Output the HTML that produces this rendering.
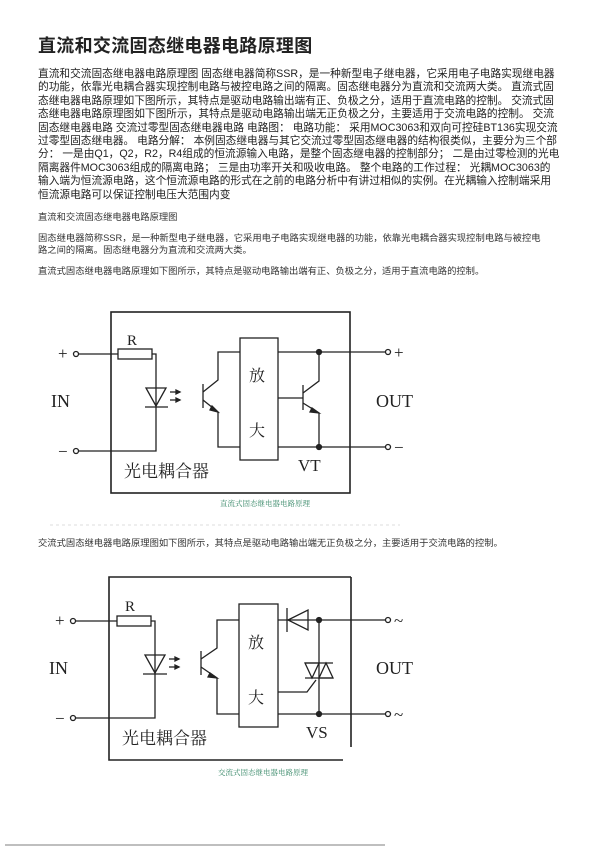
<!DOCTYPE html>
<html><head><meta charset="utf-8"><style>
body{margin:0;width:600px;height:851px;background:#fff;position:relative;overflow:hidden;font-family:"Liberation Sans","Noto Sans CJK SC",sans-serif;color:#222}
.t{position:absolute;left:38px;top:32px;font-size:18px;font-weight:bold;white-space:nowrap;letter-spacing:0.3px}
.p{position:absolute;left:38px;font-size:10.7px;line-height:13.4px;white-space:nowrap}
.s{position:absolute;left:38px;font-size:9.3px;line-height:12px;white-space:nowrap;color:#333}
svg{position:absolute;left:0;top:0}
</style></head><body>
<div class="t">直流和交流固态继电器电路原理图</div>
<div class="p" style="top:68px">直流和交流固态继电器电路原理图 固态继电器简称SSR，是一种新型电子继电器，它采用电子电路实现继电器<br>的功能，依靠光电耦合器实现控制电路与被控电路之间的隔离。固态继电器分为直流和交流两大类。 直流式固<br>态继电器电路原理如下图所示，其特点是驱动电路输出端有正、负极之分，适用于直流电路的控制。 交流式固<br>态继电器电路原理图如下图所示，其特点是驱动电路输出端无正负极之分，主要适用于交流电路的控制。 交流<br>固态继电器电路 交流过零型固态继电器电路 电路图： 电路功能： 采用MOC3063和双向可控硅BT136实现交流<br>过零型固态继电器。 电路分解： 本例固态继电器与其它交流过零型固态继电器的结构很类似，主要分为三个部<br>分： 一是由Q1，Q2，R2，R4组成的恒流源输入电路，是整个固态继电器的控制部分； 二是由过零检测的光电<br>隔离器件MOC3063组成的隔离电路； 三是由功率开关和吸收电路。 整个电路的工作过程： 光耦MOC3063的<br>输入端为恒流源电路，这个恒流源电路的形式在之前的电路分析中有讲过相似的实例。在光耦输入控制端采用<br>恒流源电路可以保证控制电压大范围内变</div>
<div class="s" style="top:211px">直流和交流固态继电器电路原理图</div>
<div class="s" style="top:232px">固态继电器简称SSR，是一种新型电子继电器，它采用电子电路实现继电器的功能，依靠光电耦合器实现控制电路与被控电<br>路之间的隔离。固态继电器分为直流和交流两大类。</div>
<div class="s" style="top:265px">直流式固态继电器电路原理如下图所示，其特点是驱动电路输出端有正、负极之分，适用于直流电路的控制。</div>
<div class="s" style="top:537px">交流式固态继电器电路原理图如下图所示，其特点是驱动电路输出端无正负极之分，主要适用于交流电路的控制。</div>
<svg width="600" height="851" viewBox="0 0 600 851" font-family="Liberation Serif,Noto Serif CJK SC,serif" fill="none" stroke="#222" stroke-width="1.3">
<rect x="111" y="312" width="239" height="181" stroke-width="1.6"/>
<line x1="79" y1="354" x2="118" y2="354"/><circle cx="76" cy="354" r="2.5" fill="#fff"/>
<rect x="118" y="349" width="34" height="10"/>
<polyline points="152,354 156,354 156,451 79,451"/><circle cx="76" cy="451" r="2.5" fill="#fff"/>
<polygon points="146,388 166,388 156,406"/><line x1="145" y1="407" x2="168" y2="407"/>
<line x1="170" y1="392" x2="180" y2="392"/><line x1="170" y1="400" x2="180" y2="400"/>
<polygon points="180,392 176,390 176,394" fill="#222"/><polygon points="180,400 176,398 176,402" fill="#222"/>
<line x1="203" y1="384" x2="203" y2="408"/>
<polyline points="203,392 218,380 218,352 240,352"/><polyline points="203,400 218,412 218,447 240,447"/>
<polygon points="218,412 212,406 210,410" fill="#222"/>
<rect x="240" y="338" width="38" height="122"/>
<line x1="278" y1="352" x2="386" y2="352"/><line x1="278" y1="447" x2="386" y2="447"/>
<circle cx="319" cy="352" r="2.5" fill="#222"/><circle cx="319" cy="447" r="2.5" fill="#222"/>
<circle cx="388" cy="352" r="2.5" fill="#fff"/><circle cx="388" cy="447" r="2.5" fill="#fff"/>
<line x1="278" y1="398" x2="303" y2="398"/><line x1="303" y1="385" x2="303" y2="410"/>
<polyline points="303,393 319,381 319,352"/><polyline points="303,403 319,413 319,447"/>
<polygon points="319,413 312,408 310,412" fill="#222"/>
<g fill="#222" stroke="none">
<text x="127" y="345" font-size="15">R</text>
<text x="58" y="359" font-size="17">+</text><text x="58" y="457" font-size="17">−</text>
<text x="51" y="407" font-size="18">IN</text><text x="376" y="407" font-size="18">OUT</text>
<text x="394" y="358" font-size="17">+</text><text x="394" y="453" font-size="17">−</text>
<text x="249" y="381" font-size="16">放</text><text x="249" y="436" font-size="16">大</text>
<text x="298" y="471" font-size="17">VT</text>
<text x="124" y="477" font-size="17">光电耦合器</text>
<text x="220" y="506" font-size="7.5" fill="#3a8a6a">直流式固态继电器电路原理</text>
</g>
<line x1="50" y1="525" x2="400" y2="525" stroke="#ddd" stroke-dasharray="3,3" stroke-width="1"/>
<polyline points="351,577 109,577 109,760 343,760" stroke-width="1.6"/><line x1="351" y1="577" x2="351" y2="747" stroke-width="1.6"/>
<line x1="76" y1="621" x2="117" y2="621"/><circle cx="73" cy="621" r="2.5" fill="#fff"/>
<rect x="117" y="616" width="34" height="10"/>
<polyline points="151,621 155,621 155,718 76,718"/><circle cx="73" cy="718" r="2.5" fill="#fff"/>
<polygon points="145,655 165,655 155,673"/><line x1="143" y1="674" x2="167" y2="674"/>
<line x1="169" y1="659" x2="179" y2="659"/><line x1="169" y1="667" x2="179" y2="667"/>
<polygon points="179,659 175,657 175,661" fill="#222"/><polygon points="179,667 175,665 175,669" fill="#222"/>
<line x1="201" y1="651" x2="201" y2="675"/>
<polyline points="201,659 217,648 217,620 239,620"/><polyline points="201,667 217,678 217,714 239,714"/>
<polygon points="217,678 210,673 208,677" fill="#222"/>
<rect x="239" y="604" width="39" height="123"/>
<line x1="278" y1="620" x2="386" y2="620"/><line x1="278" y1="714" x2="386" y2="714"/>
<line x1="287" y1="608" x2="287" y2="632"/><polygon points="288,620 308,610 308,630"/>
<line x1="319" y1="620" x2="319" y2="714"/>
<circle cx="319" cy="620" r="2.5" fill="#222"/><circle cx="319" cy="714" r="2.5" fill="#222"/>
<circle cx="388" cy="620" r="2.5" fill="#fff"/><circle cx="388" cy="714" r="2.5" fill="#fff"/>
<line x1="305" y1="663" x2="333" y2="663"/><line x1="305" y1="678" x2="333" y2="678"/>
<polygon points="305,663 319,663 312,678"/><polygon points="319,678 333,678 326,663"/>
<polyline points="278,692 307,692 316,680"/>
<g fill="#222" stroke="none">
<text x="125" y="611" font-size="15">R</text>
<text x="55" y="626" font-size="17">+</text><text x="55" y="724" font-size="17">−</text>
<text x="49" y="674" font-size="18">IN</text><text x="376" y="674" font-size="18">OUT</text>
<text x="394" y="626" font-size="17">~</text><text x="394" y="720" font-size="17">~</text>
<text x="248" y="648" font-size="16">放</text><text x="248" y="703" font-size="16">大</text>
<text x="306" y="738" font-size="17">VS</text>
<text x="122" y="744" font-size="17">光电耦合器</text>
<text x="218" y="775" font-size="7.5" fill="#3a8a6a">交流式固态继电器电路原理</text>
</g>
<line x1="5" y1="845" x2="385" y2="845" stroke="#999" stroke-width="1.2"/>
</svg>
</body></html>
